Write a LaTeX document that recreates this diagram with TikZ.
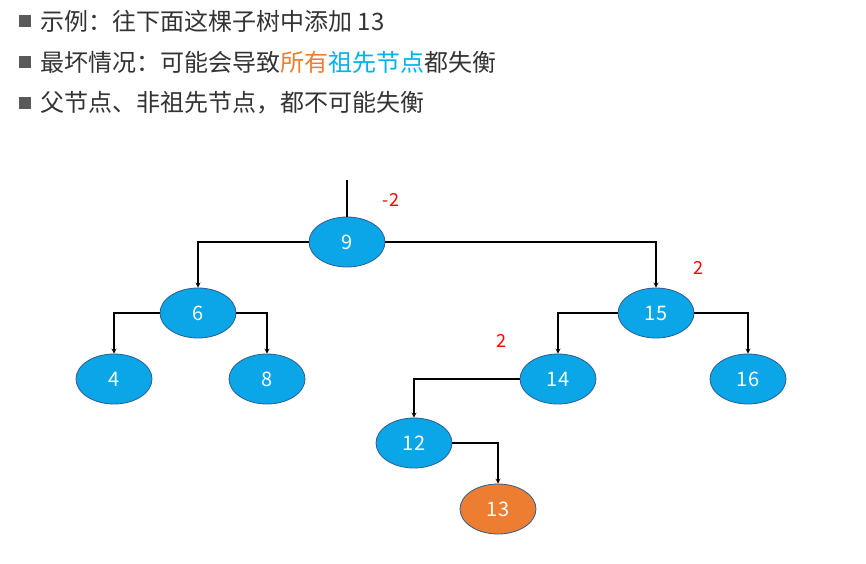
\documentclass[tikz,border=0pt]{standalone}
\usepackage{fontspec}
\setmainfont{Noto Sans CJK SC}
\usetikzlibrary{shapes.geometric,positioning}
\definecolor{nodeblue}{HTML}{0AA6E8}
\definecolor{nodeedge}{HTML}{2F5C8F}
\definecolor{hiorange}{HTML}{ED7D31}
\definecolor{hiblue}{HTML}{00B0F0}
\begin{document}
\begin{tikzpicture}
[x=1pt, y=-1pt, line width=1.2pt, >=stealth,
tnode/.style={ellipse, draw=nodeedge, line width=0.8pt, fill=nodeblue, text=white, minimum width=76pt, minimum height=50pt, inner sep=0pt, font=\fontsize{20}{20}\selectfont},
newnode/.style={tnode, fill=hiorange},
bal/.style={text=red, font=\fontsize{18}{18}\selectfont},
bullet/.style={rectangle, fill=black!65, inner sep=0pt, minimum size=12pt},
line/.style={anchor=west, inner sep=0pt, font=\fontsize{24}{24}\selectfont, text=black!80}]

\useasboundingbox (0,0) rectangle (866,563);

% bullet points
\node[bullet] (b1) at (25,21) {};
\node[line] (t1) at (40,21) {示例：往下面这棵子树中添加 13};
\node[bullet] (b2) at (25,62) {};
\node[line] (t2) at (40,62) {最坏情况：可能会导致{\color{hiorange}所有}{\color{hiblue}祖先节点}都失衡};
\node[bullet] (b3) at (25,103) {};
\node[line] (t3) at (40,103) {父节点、非祖先节点，都不可能失衡};

% tree
\node[tnode] (n9) at (347,242) {9};
\node[tnode] (n6) at (198,313) {6};
\node[tnode] (n15) at (656,313) {15};
\node[tnode] (n4) at (114,379) {4};
\node[tnode] (n8) at (267,379) {8};
\node[tnode] (n14) at (558,379) {14};
\node[tnode] (n16) at (748,379) {16};
\node[tnode] (n12) at (414,443) {12};
\node[newnode] (n13) at (498,509) {13};

\coordinate (top) at (347,180);
\draw (top) -- (n9.north);

\draw[->] (n9.west) -| (n6.north);
\draw[->] (n9.east) -| (n15.north);
\draw[->] (n6.west) -| (n4.north);
\draw[->] (n6.east) -| (n8.north);
\draw[->] (n15.west) -| (n14.north);
\draw[->] (n15.east) -| (n16.north);
\draw[->] (n14.west) -| (n12.north);
\draw[->] (n12.east) -| (n13.north);

% balance factors
\node[bal] (f9) at (391,200) {-2};
\node[bal] (f15) at (698,268) {2};
\node[bal] (f14) at (501,341) {2};

\end{tikzpicture}
\end{document}
